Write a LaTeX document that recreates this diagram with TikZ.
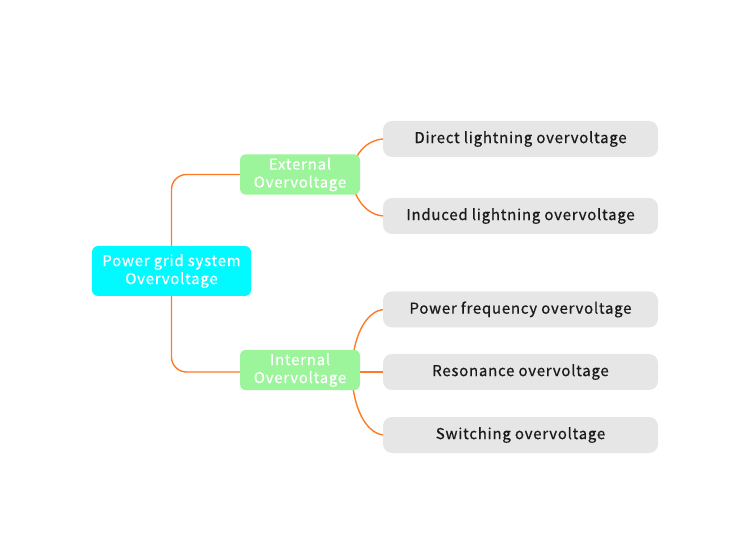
\documentclass[tikz,border=0pt]{standalone}
\usepackage{fontspec}
\setmainfont{Noto Sans CJK SC}[LetterSpace=5, FakeBold=0.6]
\usepackage{xcolor}
\definecolor{vcyan}{HTML}{00FAFF}
\definecolor{vgreen}{HTML}{9CF59A}
\definecolor{vgray}{HTML}{E6E6E6}
\definecolor{vorange}{HTML}{FF7A24}
\definecolor{vdarkgray}{HTML}{1a1a1a}

\tikzset{
	rootbox/.style={fill=vcyan, rounded corners=6pt, minimum width=159pt, minimum height=50pt, text=white, align=center, font=\fontsize{15}{18}\selectfont},
	midbox/.style={fill=vgreen, rounded corners=6pt, minimum width=120pt, minimum height=38pt, text=white, align=center, font=\fontsize{15}{18}\selectfont},
	leafbox/.style={fill=vgray, rounded corners=9pt, minimum width=275pt, minimum height=36pt, text=vdarkgray, font=\fontsize{15}{18}\selectfont},
	link/.style={color=vorange, line width=1.4pt}
}

\begin{document}
\begin{tikzpicture}[x=1pt, y=-1pt]
		\useasboundingbox (0,0) rectangle (750,545);
		% links first, boxes on top
		\coordinate (ext) at (352,176);
		\coordinate (int) at (352,372);
		\draw[link, rounded corners=15pt] (171.5,271) |- (300,174.5);
		\draw[link, rounded corners=15pt] (171.5,271) |- (300,372);
		\draw[link] (ext) .. controls (352,156) and (366,139) .. (385,139);
		\draw[link] (ext) .. controls (352,196) and (366,216) .. (385,216);
		\draw[link] (int) .. controls (352,338) and (366,309.5) .. (385,309.5);
		\draw[link] (int) -- (385,372);
		\draw[link] (int) .. controls (352,406) and (366,435) .. (385,435);
		\node[rootbox] (root) at (171.5,271) {Power grid system\\Overvoltage};
		\node[midbox] (external) at (300,174.5) {External\\Overvoltage};
		\node[midbox] (internal) at (300,370) {Internal\\Overvoltage};
		\node[leafbox] (direct) at (520.5,139) {Direct lightning overvoltage};
		\node[leafbox] (induced) at (520.5,216) {Induced lightning overvoltage};
		\node[leafbox] (powerfreq) at (520.5,309.5) {Power frequency overvoltage};
		\node[leafbox] (resonance) at (520.5,372) {Resonance overvoltage};
		\node[leafbox] (switching) at (520.5,435) {Switching overvoltage};
	\end{tikzpicture}
\end{document}
